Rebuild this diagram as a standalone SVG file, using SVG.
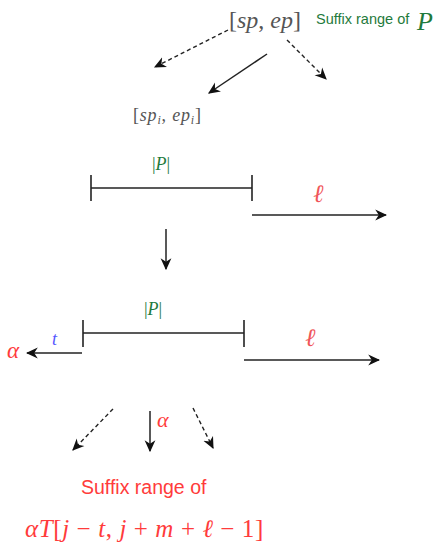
<svg xmlns="http://www.w3.org/2000/svg" width="447" height="543" viewBox="0 0 447 543">
<style>
.m{font-family:"Liberation Serif",serif;font-style:italic}
.r{font-family:"Liberation Serif",serif}
.s{font-family:"Liberation Sans",Arial,sans-serif}
.ln{stroke:#222;stroke-width:1.6;fill:none}
.sd{stroke:#222;stroke-width:1.5;fill:none;marker-end:url(#ah)}
.dd{stroke:#222;stroke-width:1.4;fill:none;stroke-dasharray:4,3;marker-end:url(#ah)}
.g{fill:#1f7a3c}.red{fill:#ff3b3b}.lr{fill:#f0565a}.bl{fill:#5656ff}.gr{fill:#555}
</style>
<defs>
<marker id="ah" viewBox="0 0 10 10" refX="9" refY="5" markerWidth="12" markerHeight="12" orient="auto" markerUnits="userSpaceOnUse">
<path d="M0,0.5 L10,5 L0,9.5 L3,5 Z" fill="#111"/>
</marker>
</defs>
<g id="top">
<text x="229" y="28" class="r gr" font-size="24">[<tspan class="m">sp</tspan>, <tspan class="m">ep</tspan>]</text>
<text x="316" y="24" class="s g" font-size="14.5">Suffix range of</text>
<text x="417" y="30" class="m g" font-size="26">P</text>
</g>
<g id="child">
<text x="133" y="121" class="r gr" font-size="18" letter-spacing="0.8">[<tspan class="m">sp<tspan font-size="12" dy="3">i</tspan></tspan><tspan dy="-3">, </tspan><tspan class="m">ep<tspan font-size="12" dy="3">i</tspan></tspan><tspan dy="-3">]</tspan></text>
</g>
<g id="seg1">
<text x="152" y="170" class="r g" font-size="18">|<tspan class="m">P</tspan>|</text>
<line x1="91" y1="188" x2="252" y2="188" class="ln"/>
<line x1="91" y1="175" x2="91" y2="201" class="ln"/>
<line x1="252" y1="175" x2="252" y2="201" class="ln"/>
<text x="313" y="202" class="m lr" font-size="25">ℓ</text>
</g>
<g id="seg2">
<text x="144" y="315" class="r g" font-size="18">|<tspan class="m">P</tspan>|</text>
<line x1="83" y1="333" x2="244" y2="333" class="ln"/>
<line x1="83" y1="320" x2="83" y2="347" class="ln"/>
<line x1="244" y1="320" x2="244" y2="347" class="ln"/>
<text x="52" y="345" class="m bl" font-size="18">t</text>
<text x="7" y="358" class="m red" font-size="23">α</text>
<text x="305" y="346" class="m lr" font-size="25">ℓ</text>
</g>
<g id="bottom">
<text x="81" y="494" class="s red" font-size="19.5">Suffix range of</text>
<text x="25" y="537" class="m red" font-size="25" letter-spacing="0.6">αT<tspan class="r" font-style="normal">[</tspan>j <tspan class="r" font-style="normal">− </tspan>t<tspan class="r" font-style="normal">, </tspan>j <tspan class="r" font-style="normal">+ </tspan>m <tspan class="r" font-style="normal">+ </tspan>ℓ <tspan class="r" font-style="normal">− 1]</tspan></text>
</g>
<g id="connectors">
<line x1="228" y1="30" x2="155" y2="67" class="dd"/>
<line x1="267" y1="54" x2="209" y2="93" class="sd"/>
<line x1="287" y1="40" x2="326" y2="79" class="dd"/>
<line x1="252" y1="215" x2="386" y2="215" class="sd"/>
<line x1="166" y1="229" x2="166" y2="269" class="sd"/>
<line x1="82" y1="353" x2="27" y2="353" class="sd"/>
<line x1="244" y1="360" x2="379" y2="360" class="sd"/>
<line x1="113" y1="409" x2="73" y2="450" class="dd"/>
<line x1="150" y1="411" x2="150" y2="451" class="sd"/>
<line x1="193" y1="408" x2="213" y2="448" class="dd"/>
<text x="157" y="427" class="m red" font-size="22">α</text>
</g>
</svg>
